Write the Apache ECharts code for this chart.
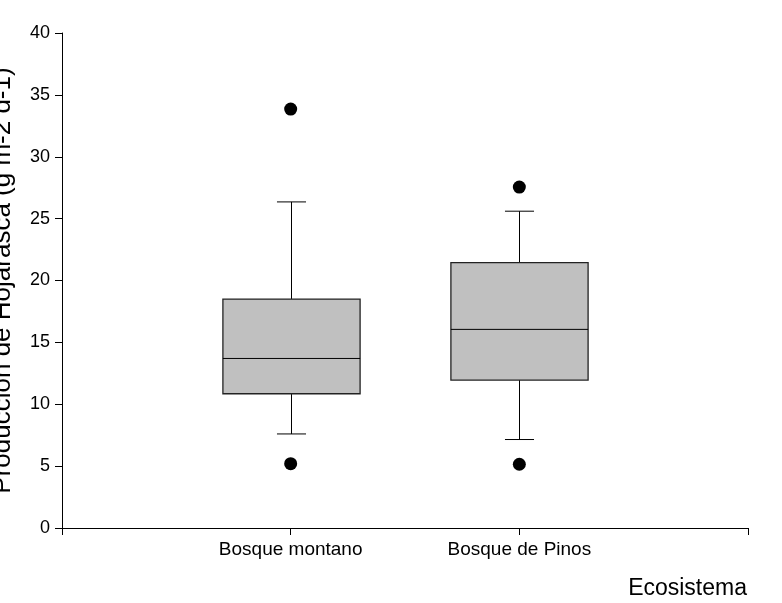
<!DOCTYPE html>
<html>
<head>
<meta charset="utf-8">
<script src="https://cdn.jsdelivr.net/npm/echarts@6/dist/echarts.min.js"></script>
<style>
  html, body { margin: 0; padding: 0; background: #fff; }
  #chart { width: 782px; height: 603px; }
</style>
</head>
<body>
<div id="chart"></div>
<script>
// Ecosystem categories (empty slots pad the axis at both ends)
const categories = ['', 'Bosque montano', 'Bosque de Pinos', ''];

// Box statistics per ecosystem: [category index, lower whisker, Q1, median, Q3, upper whisker]
const boxStats = [
  [1, 7.6, 10.85, 13.7, 18.5, 26.35],
  [2, 7.15, 11.95, 16.05, 21.45, 25.6]
];

// Outlying observations: [category index, value]
const outliers = [
  [1, 33.85],
  [1, 5.2],
  [2, 27.55],
  [2, 5.15]
];

const yTicks = [0, 5, 10, 15, 20, 25, 30, 35, 40];

const FONT = 'Liberation Sans, Arial, sans-serif';

const chart = echarts.init(document.getElementById('chart'), null, { renderer: 'canvas' });

function renderBox(params, api) {
  const x = api.value(0);
  const band = api.size([1, 0])[0];
  const half = band * 0.3;
  const capHalf = band * 0.0635;
  const pLo = api.coord([x, api.value(1)]);
  const pQ1 = api.coord([x, api.value(2)]);
  const pMed = api.coord([x, api.value(3)]);
  const pQ3 = api.coord([x, api.value(4)]);
  const pHi = api.coord([x, api.value(5)]);
  const cx = Math.round(pMed[0]) + 0.5;
  const lineStyle = { stroke: '#000', lineWidth: 1, fill: null };
  return {
    type: 'group',
    children: [
      { type: 'line', shape: { x1: cx, y1: pQ1[1], x2: cx, y2: pLo[1] }, style: lineStyle },
      { type: 'line', shape: { x1: cx, y1: pQ3[1], x2: cx, y2: pHi[1] }, style: lineStyle },
      { type: 'line', shape: { x1: cx - capHalf, y1: pLo[1], x2: cx + capHalf, y2: pLo[1] }, style: lineStyle },
      { type: 'line', shape: { x1: cx - capHalf, y1: pHi[1], x2: cx + capHalf, y2: pHi[1] }, style: lineStyle },
      {
        type: 'rect',
        shape: { x: cx - half, y: pQ3[1], width: half * 2, height: pQ1[1] - pQ3[1] },
        style: { fill: '#c0c0c0', stroke: '#222', lineWidth: 1.3 }
      },
      { type: 'line', shape: { x1: cx - half, y1: pMed[1], x2: cx + half, y2: pMed[1] }, style: lineStyle }
    ]
  };
}

chart.setOption({
  animation: false,
  backgroundColor: '#fff',
  grid: { left: 62, right: 34, top: 33, bottom: 75, containLabel: false, outerBoundsMode: 'none' },
  title: {
    text: 'Ecosistema',
    right: 35,
    top: 577,
    padding: 0,
    textStyle: { fontFamily: FONT, fontSize: 23, fontWeight: 'normal', color: '#000' }
  },
  xAxis: {
    type: 'category',
    data: categories,
    boundaryGap: false,
    axisLine: { lineStyle: { color: '#000', width: 1 } },
    axisTick: { show: true, length: 7, inside: false, lineStyle: { color: '#000' } },
    axisLabel: { fontFamily: FONT, fontSize: 19, color: '#000', margin: 12, interval: 0 },
    splitLine: { show: false }
  },
  yAxis: {
    type: 'value',
    min: 0,
    max: 40,
    interval: 5,
    name: 'Producción de Hojarasca (g m-2 d-1)',
    nameLocation: 'middle',
    nameGap: 46,
    nameTextStyle: { fontFamily: FONT, fontSize: 26, color: '#000' },
    axisLine: { show: true, lineStyle: { color: '#000', width: 1 } },
    axisTick: { show: true, length: 7, lineStyle: { color: '#000' } },
    axisLabel: {
      fontFamily: FONT, fontSize: 18, color: '#000', margin: 12,
      formatter: v => (yTicks.indexOf(v) >= 0 ? String(v) : '')
    },
    splitLine: { show: false }
  },
  series: [
    {
      type: 'custom',
      data: boxStats,
      encode: { x: 0, y: [1, 2, 3, 4, 5] },
      renderItem: renderBox,
      z: 2
    },
    {
      type: 'scatter',
      data: outliers,
      symbol: 'circle',
      symbolSize: 13,
      itemStyle: { color: '#000', opacity: 1 },
      z: 3
    }
  ]
});
</script>
</body>
</html>
